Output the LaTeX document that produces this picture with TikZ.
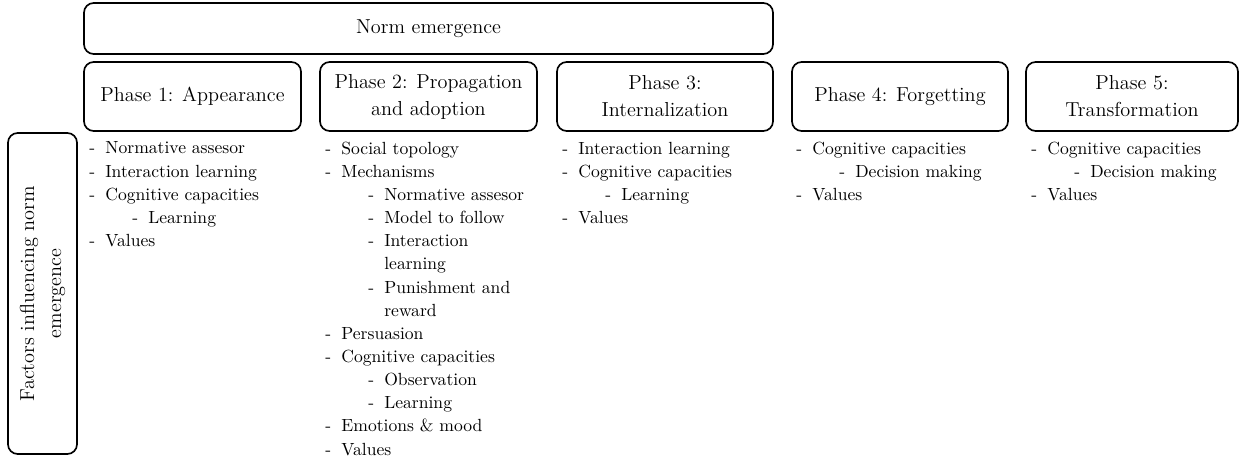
\documentclass[tikz,border=0pt]{standalone}
\newcommand{\pxu}{0.5682pt}
\newcommand{\Litem}[1]{\makebox[9.1pt][l]{-}#1}
\newcommand{\Lsub}[1]{\hspace*{24.4pt}\makebox[9.1pt][l]{-}#1}
\newcommand{\Lcont}[1]{\hspace*{33.5pt}#1}
\begin{document}
\begin{tikzpicture}[x=0.5682pt, y=-0.5682pt,
  box/.style={draw, line width=0.95pt, rounded corners=5.5pt, inner sep=0pt,
    align=center, font=\fontsize{11.5}{15.4}\selectfont},
  phasebox/.style={box, minimum width=217*\pxu, minimum height=69*\pxu},
  lst/.style={anchor=north west, inner sep=0pt, align=left,
    font=\fontsize{10}{13.15}\selectfont}]
\useasboundingbox (0,0) rectangle (1239,456);

\node[box, minimum width=689*\pxu, minimum height=51*\pxu] (norm) at (428.5,28.5) {Norm emergence};

\node[phasebox] (p1) at (192.5,96.5) {Phase 1: Appearance};
\node[phasebox] (p2) at (428.5,96.5) {Phase 2: Propagation\\and adoption};
\node[phasebox, minimum width=216*\pxu] (p3) at (665,96.5) {Phase 3:\\Internalization};
\node[phasebox, minimum width=216*\pxu] (p4) at (900,96.5) {Phase 4: Forgetting};
\node[phasebox, minimum width=212*\pxu] (p5) at (1132,96.5) {Phase 5:\\Transformation};

\node[box, rotate=90, minimum width=321*\pxu, minimum height=69*\pxu] (fac) at (42.5,293.5)
  {Factors influencing norm\\emergence};

\node[lst] (l1) at (89,141.5) {\Litem{Normative assesor}\\\Litem{Interaction learning}\\\Litem{Cognitive capacities}\\\Lsub{Learning}\\\Litem{Values}};

\node[lst] (l2) at (325,141.5) {\Litem{Social topology}\\\Litem{Mechanisms}\\\Lsub{Normative assesor}\\\Lsub{Model to follow}\\\Lsub{Interaction}\\\Lcont{learning}\\\Lsub{Punishment and}\\\Lcont{reward}\\\Litem{Persuasion}\\\Litem{Cognitive capacities}\\\Lsub{Observation}\\\Lsub{Learning}\\\Litem{Emotions \& mood}\\\Litem{Values}};

\node[lst] (l3) at (562,141.5) {\Litem{Interaction learning}\\\Litem{Cognitive capacities}\\\Lsub{Learning}\\\Litem{Values}};

\node[lst] (l4) at (796,141.5) {\Litem{Cognitive capacities}\\\Lsub{Decision making}\\\Litem{Values}};

\node[lst] (l5) at (1031,141.5) {\Litem{Cognitive capacities}\\\Lsub{Decision making}\\\Litem{Values}};
\end{tikzpicture}
\end{document}
